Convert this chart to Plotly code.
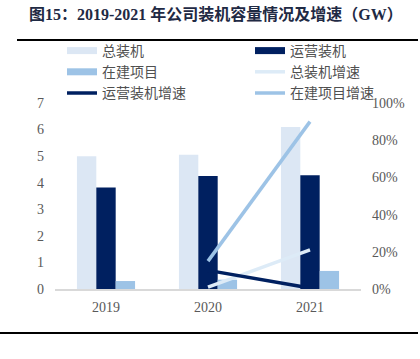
import plotly.graph_objects as go

years = ["2019", "2020", "2021"]
total_cap = [5.0, 5.05, 6.1]
operating_cap = [3.82, 4.25, 4.28]
construction_cap = [0.3, 0.35, 0.68]

growth_years = ["2020", "2021"]
total_growth = [0.01, 0.21]
operating_growth = [0.10, 0.005]
construction_growth = [0.15, 0.90]

names_bar = ["总装机", "运营装机", "在建项目"]
names_line = ["总装机增速", "运营装机增速", "在建项目增速"]

C_TOTAL = "#DCE7F4"
C_OPER = "#002060"
C_CONS = "#9DC3E6"
C_TOTAL_L = "#DDEBF7"

W, H = 420, 359
ML, MR, MT, MB = 55, 59, 103, 70
PW = W - ML - MR
PH = H - MT - MB

def px_x(p):
    return (p - ML) / PW

def px_y(p):
    return (H - MB - p) / PH

serif = "Liberation Serif, Times New Roman, serif"
cjk = "Noto Sans CJK SC, sans-serif"

fig = go.Figure()

# bars
for name, vals, col in zip(names_bar, [total_cap, operating_cap, construction_cap],
                           [C_TOTAL, C_OPER, C_CONS]):
    fig.add_trace(go.Bar(x=years, y=vals, name=name, marker=dict(color=col, line=dict(width=0)),
                         showlegend=False, yaxis="y"))

# lines
for name, vals, col in zip(names_line, [total_growth, operating_growth, construction_growth],
                           [C_TOTAL_L, C_OPER, C_CONS]):
    fig.add_trace(go.Scatter(x=growth_years, y=vals, name=name, mode="lines",
                             line=dict(color=col, width=3.5), showlegend=False, yaxis="y2"))

# legend entries (wide swatches like the reference)
leg_entries = [
    ("总装机", C_TOTAL, 7, "legend"),
    ("在建项目", C_CONS, 7, "legend"),
    ("运营装机增速", C_OPER, 3.5, "legend"),
    ("运营装机", C_OPER, 7, "legend2"),
    ("总装机增速", C_TOTAL_L, 3.5, "legend2"),
    ("在建项目增速", C_CONS, 3.5, "legend2"),
]
for name, col, w, lg in leg_entries:
    fig.add_trace(go.Scatter(x=[None], y=[None], mode="lines", name=name,
                             line=dict(color=col, width=w), legend=lg, showlegend=True,
                             hoverinfo="skip"))

leg_font = dict(family=cjk, size=14, color="#505050")
fig.update_layout(
    width=W, height=H,
    margin=dict(l=ML, r=MR, t=MT, b=MB, autoexpand=False),
    paper_bgcolor="white", plot_bgcolor="white",
    barmode="group", bargap=0.43, bargroupgap=0,
    showlegend=True,
    legend=dict(x=px_x(62), y=px_y(35), xanchor="left", yanchor="top",
                orientation="v", font=leg_font, bgcolor="rgba(0,0,0,0)", tracegroupgap=0),
    legend2=dict(x=px_x(250), y=px_y(35), xanchor="left", yanchor="top",
                 orientation="v", font=leg_font, bgcolor="rgba(0,0,0,0)", tracegroupgap=0),
    xaxis=dict(type="category", showgrid=False, showline=True, linecolor="#D9D9D9",
               linewidth=1.5, ticks="", tickfont=dict(family=serif, size=14, color="#595959"),
               ticklabelstandoff=4, zeroline=False),
    yaxis=dict(range=[0, 7], dtick=1, showgrid=False, showline=False, zeroline=False,
               ticks="", tickfont=dict(family=serif, size=14, color="#595959"),
               ticklabelstandoff=10),
    yaxis2=dict(range=[0, 1], dtick=0.2, tickformat=".0%", overlaying="y", side="right",
                showgrid=False, showline=False, zeroline=False, ticks="",
                tickfont=dict(family=serif, size=14, color="#595959"),
                ticklabelstandoff=10),
)

fig.add_annotation(text="<b>图15：2019-2021 年公司装机容量情况及增速（GW）</b>",
                   xref="paper", yref="paper", x=px_x(27), y=px_y(14),
                   xanchor="left", yanchor="middle", showarrow=False,
                   font=dict(family="Liberation Serif, Noto Sans CJK SC, serif", size=16,
                             color="#1F2A44"))

fig.add_shape(type="line", xref="paper", yref="paper", x0=px_x(17), x1=px_x(418),
              y0=px_y(40), y1=px_y(40), line=dict(color="#000000", width=2))
fig.add_shape(type="line", xref="paper", yref="paper", x0=px_x(0), x1=px_x(418),
              y0=px_y(333), y1=px_y(333), line=dict(color="#000000", width=2))

fig.write_html("out.html", config={"displayModeBar": False},
               post_script="document.body.style.margin='0';")
